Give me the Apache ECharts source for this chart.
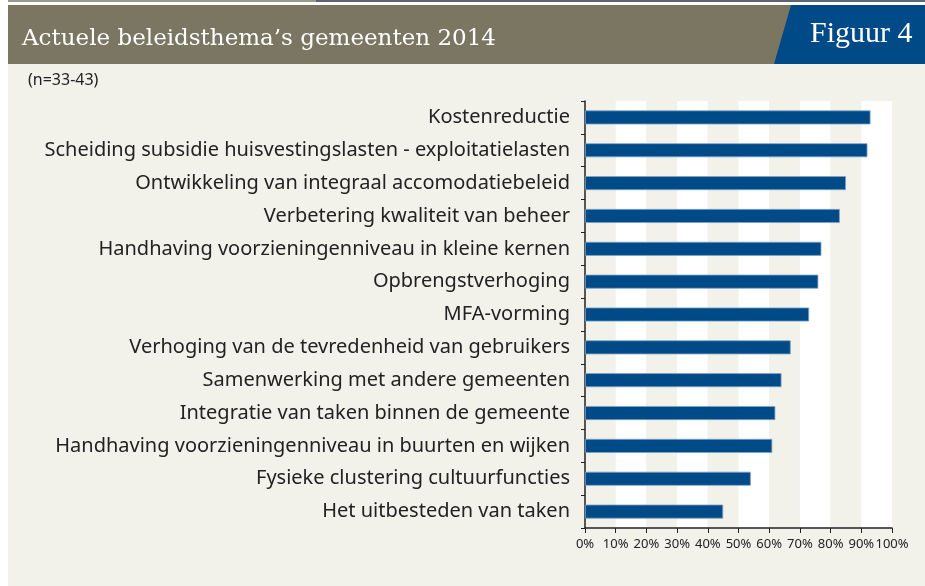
<!DOCTYPE html>
<html>
<head>
<meta charset="utf-8">
<script src="https://cdn.jsdelivr.net/npm/echarts@6/dist/echarts.min.js"></script>
<style>
  html, body { margin: 0; padding: 0; background: #fff; }
  #chart { width: 925px; height: 586px; }
</style>
</head>
<body>
<div id="chart"></div>
<script>
// beleidsthema's, van boven naar beneden
const themes = [
    'Kostenreductie',
    'Scheiding subsidie huisvestingslasten - exploitatielasten',
    'Ontwikkeling van integraal accomodatiebeleid',
    'Verbetering kwaliteit van beheer',
    'Handhaving voorzieningenniveau in kleine kernen',
    'Opbrengstverhoging',
    'MFA-vorming',
    'Verhoging van de tevredenheid van gebruikers',
    'Samenwerking met andere gemeenten',
    'Integratie van taken binnen de gemeente',
    'Handhaving voorzieningenniveau in buurten en wijken',
    'Fysieke clustering cultuurfuncties',
    'Het uitbesteden van taken'
];
// percentage gemeenten
const shares = [93, 92, 85, 83, 77, 76, 73, 67, 64, 62, 61, 54, 45];

const chart = echarts.init(document.getElementById('chart'));

chart.setOption({
    animation: false,
    backgroundColor: '#fff',
    graphic: [
        { type: 'rect', shape: { x: 8, y: 64, width: 917, height: 522 }, style: { fill: '#f2f1ea' }, z: -10 },
        { type: 'rect', shape: { x: 8, y: 5, width: 917, height: 59 }, style: { fill: '#7a7662' }, z: -5 },
        { type: 'polygon', shape: { points: [[791, 5], [925, 5], [925, 64], [774, 64]] }, style: { fill: '#004a87' }, z: -4 },
        { type: 'rect', shape: { x: 8, y: 0, width: 308, height: 2 }, style: { fill: '#9a9a8c' } },
        { type: 'rect', shape: { x: 316, y: 0, width: 609, height: 2 }, style: { fill: '#5d6670' } },
        {
            type: 'text', left: 22, top: 28,
            style: { text: 'Actuele beleidsthema’s gemeenten 2014', fill: '#fff', font: '23px "DejaVu Serif"' }
        },
        {
            type: 'text', left: 810, top: 19,
            style: { text: 'Figuur 4', fill: '#fff', font: '30px "Liberation Serif"' }
        },
        {
            type: 'text', left: 28, top: 72,
            style: { text: '(n=33-43)', fill: '#222', font: '16px "Noto Sans"' }
        }
    ],
    grid: { left: 585, top: 101, width: 307, height: 427 },
    xAxis: {
        type: 'value',
        min: 0,
        max: 100,
        interval: 10,
        axisLine: { show: true, lineStyle: { color: '#222', width: 1.5 } },
        axisTick: { show: true, length: 5, lineStyle: { color: '#222' } },
        axisLabel: {
            formatter: '{value}%', color: '#222', fontSize: 13, fontFamily: 'Noto Sans', margin: 10,
            hideOverlap: false, showMinLabel: true, showMaxLabel: true
        },
        splitLine: { show: false },
        splitArea: { show: true, areaStyle: { color: ['#f2f1ea', '#ffffff'] } }
    },
    yAxis: {
        type: 'category',
        data: themes,
        inverse: true,
        axisLine: { show: true, lineStyle: { color: '#222', width: 1.5 } },
        axisTick: { show: true, length: 4, lineStyle: { color: '#222' } },
        axisLabel: { color: '#222', fontSize: 20, fontFamily: 'Noto Sans', margin: 15 }
    },
    series: [
        {
            type: 'bar',
            data: shares,
            barWidth: 14,
            itemStyle: { color: '#004a87', borderColor: '#7ea3c6', borderWidth: 0.8 }
        }
    ]
});
</script>
</body>
</html>
